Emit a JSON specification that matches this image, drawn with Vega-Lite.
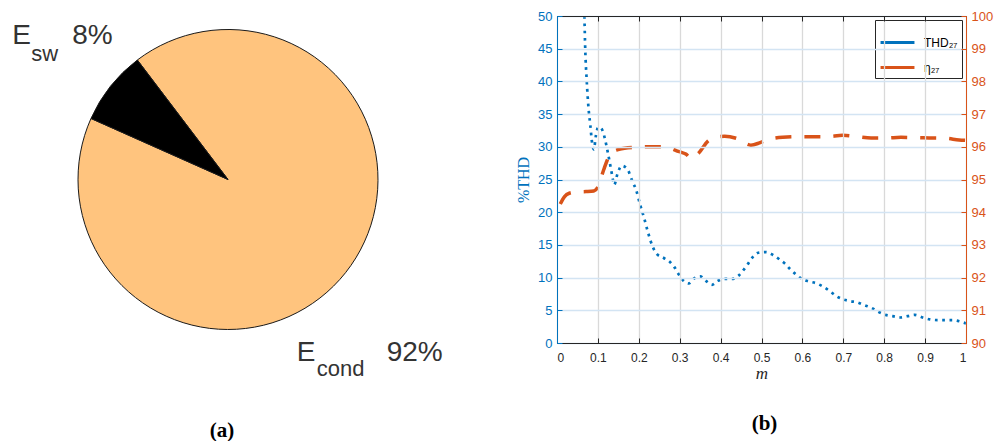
{
  "$schema": "https://vega.github.io/schema/vega-lite/v6.json",
  "background": "white",
  "padding": {"left": 0, "top": 10, "right": 0, "bottom": 0},
  "bounds": "flush",
  "spacing": 101,
  "config": {"view": {"stroke": null}, "font": "Liberation Sans"},
  "resolve": {"scale": {"color": "independent"}},
  "datasets": {
    "energy": [
      {"part": "E_cond", "share": 92, "sub": "cond", "pct": "92%"},
      {"part": "E_sw", "share": 8, "sub": "sw", "pct": "8%"}
    ],
    "thd": [
      {"m": 0.067, "thd": 50}, {"m": 0.069, "thd": 45}, {"m": 0.0726, "thd": 40.2}, {"m": 0.0775, "thd": 35.6},
      {"m": 0.0815, "thd": 33.3}, {"m": 0.085, "thd": 31}, {"m": 0.09, "thd": 29.6}, {"m": 0.0954, "thd": 31.8},
      {"m": 0.101, "thd": 33.0}, {"m": 0.107, "thd": 32.9}, {"m": 0.113, "thd": 32.2}, {"m": 0.118, "thd": 31},
      {"m": 0.125, "thd": 28.9}, {"m": 0.132, "thd": 26.6}, {"m": 0.136, "thd": 25.2}, {"m": 0.14, "thd": 24.2},
      {"m": 0.148, "thd": 25.9}, {"m": 0.158, "thd": 27.1}, {"m": 0.171, "thd": 26.7}, {"m": 0.185, "thd": 24.6},
      {"m": 0.193, "thd": 23.5}, {"m": 0.203, "thd": 21.2}, {"m": 0.2135, "thd": 19.0}, {"m": 0.223, "thd": 16.8},
      {"m": 0.2355, "thd": 14.5}, {"m": 0.2445, "thd": 13.6}, {"m": 0.261, "thd": 13.0}, {"m": 0.276, "thd": 12.4},
      {"m": 0.287, "thd": 11.6}, {"m": 0.2975, "thd": 10.5}, {"m": 0.308, "thd": 9.6}, {"m": 0.322, "thd": 9.1},
      {"m": 0.336, "thd": 9.9}, {"m": 0.35, "thd": 10.2}, {"m": 0.364, "thd": 9.5}, {"m": 0.379, "thd": 8.9},
      {"m": 0.393, "thd": 9.5}, {"m": 0.411, "thd": 9.8}, {"m": 0.428, "thd": 9.8}, {"m": 0.444, "thd": 10.3},
      {"m": 0.4565, "thd": 11.2}, {"m": 0.467, "thd": 12.1}, {"m": 0.478, "thd": 13.1}, {"m": 0.492, "thd": 13.8},
      {"m": 0.511, "thd": 13.9}, {"m": 0.527, "thd": 13.5}, {"m": 0.5435, "thd": 12.8}, {"m": 0.558, "thd": 12.1},
      {"m": 0.57, "thd": 11.3}, {"m": 0.584, "thd": 10.5}, {"m": 0.599, "thd": 9.8}, {"m": 0.617, "thd": 9.4},
      {"m": 0.635, "thd": 9.1}, {"m": 0.651, "thd": 8.6}, {"m": 0.6675, "thd": 7.9}, {"m": 0.682, "thd": 7.2},
      {"m": 0.6985, "thd": 6.7}, {"m": 0.717, "thd": 6.4}, {"m": 0.735, "thd": 6.2}, {"m": 0.751, "thd": 5.8},
      {"m": 0.768, "thd": 5.4}, {"m": 0.785, "thd": 4.8}, {"m": 0.803, "thd": 4.3}, {"m": 0.821, "thd": 4.1},
      {"m": 0.839, "thd": 3.9}, {"m": 0.857, "thd": 4.1}, {"m": 0.875, "thd": 4.3}, {"m": 0.894, "thd": 3.9},
      {"m": 0.912, "thd": 3.6}, {"m": 0.931, "thd": 3.5}, {"m": 0.949, "thd": 3.5}, {"m": 0.967, "thd": 3.5},
      {"m": 0.985, "thd": 3.3}, {"m": 1.0, "thd": 3.0}
    ],
    "eta": [
      {"m": 0.008, "eta": 94.25}, {"m": 0.018, "eta": 94.47}, {"m": 0.03, "eta": 94.58}, {"m": 0.05, "eta": 94.62},
      {"m": 0.071, "eta": 94.63}, {"m": 0.09, "eta": 94.65}, {"m": 0.0995, "eta": 94.76}, {"m": 0.114, "eta": 95.29},
      {"m": 0.124, "eta": 95.62}, {"m": 0.135, "eta": 95.82}, {"m": 0.152, "eta": 95.92}, {"m": 0.185, "eta": 95.98},
      {"m": 0.226, "eta": 96.0}, {"m": 0.262, "eta": 96.0}, {"m": 0.299, "eta": 95.85}, {"m": 0.315, "eta": 95.78},
      {"m": 0.328, "eta": 95.65}, {"m": 0.346, "eta": 95.8}, {"m": 0.368, "eta": 96.16}, {"m": 0.385, "eta": 96.28},
      {"m": 0.41, "eta": 96.32}, {"m": 0.438, "eta": 96.26}, {"m": 0.474, "eta": 96.05}, {"m": 0.495, "eta": 96.12},
      {"m": 0.511, "eta": 96.2}, {"m": 0.552, "eta": 96.29}, {"m": 0.592, "eta": 96.31}, {"m": 0.658, "eta": 96.31},
      {"m": 0.699, "eta": 96.35}, {"m": 0.735, "eta": 96.31}, {"m": 0.768, "eta": 96.27}, {"m": 0.804, "eta": 96.27},
      {"m": 0.841, "eta": 96.29}, {"m": 0.878, "eta": 96.28}, {"m": 0.91, "eta": 96.27}, {"m": 0.951, "eta": 96.26},
      {"m": 0.983, "eta": 96.21}, {"m": 1.0, "eta": 96.2}
    ]
  },
  "hconcat": [
    {
      "width": 456,
      "height": 327,
      "title": {"text": "(a)", "orient": "bottom", "frame": "group", "offset": 40, "dx": -6, "font": "Liberation Serif", "fontSize": 21, "fontWeight": "bold", "color": "#000000"},
      "data": {"name": "energy"},
      "encoding": {
        "theta": {"field": "share", "type": "quantitative", "stack": true, "scale": {"range": [-0.649, 5.634]}},
        "order": {"field": "part", "sort": "ascending"}
      },
      "layer": [
        {
          "mark": {"type": "arc", "outerRadius": 150, "stroke": "#1a1a1a", "strokeWidth": 1},
          "encoding": {
            "color": {"field": "part", "type": "nominal", "scale": {"domain": ["E_cond", "E_sw"], "range": ["#FFC47E", "#000000"]}, "legend": null}
          }
        },
        {
          "mark": {"type": "text", "radius": 200, "align": "left", "baseline": "alphabetic", "fontSize": 28, "color": "#333333", "text": "E",
            "dx": {"expr": "datum.part == 'E_sw' ? -59 : -88"}, "dy": {"expr": "datum.part == 'E_sw' ? -11 : 57"}}
        },
        {
          "mark": {"type": "text", "radius": 200, "align": "left", "baseline": "alphabetic", "fontSize": 22, "color": "#333333",
            "dx": {"expr": "datum.part == 'E_sw' ? -40 : -68"}, "dy": {"expr": "datum.part == 'E_sw' ? 6 : 72"}},
          "encoding": {"text": {"field": "sub"}}
        },
        {
          "mark": {"type": "text", "radius": 200, "align": "left", "baseline": "alphabetic", "fontSize": 28, "color": "#333333",
            "dx": {"expr": "datum.part == 'E_sw' ? 1 : 2"}, "dy": {"expr": "datum.part == 'E_sw' ? -11 : 57"}},
          "encoding": {"text": {"field": "pct"}}
        }
      ]
    },
    {
      "width": 409,
      "height": 327,
      "title": {"text": "(b)", "orient": "bottom", "frame": "group", "offset": 32, "dx": 3, "font": "Liberation Serif", "fontSize": 21, "fontWeight": "bold", "color": "#000000"},
      "resolve": {"scale": {"y": "independent"}, "axis": {"x": "independent"}},
      "layer": [
        {
          "data": {"name": "thd"},
          "mark": {"type": "line", "strokeWidth": 2.7, "clip": true, "interpolate": "monotone"},
          "encoding": {
            "x": {"field": "m", "type": "quantitative", "scale": {"domain": [0, 1], "nice": false},
              "axis": {"orient": "bottom", "values": [0, 0.1, 0.2, 0.3, 0.4, 0.5, 0.6, 0.7, 0.8, 0.9, 1], "format": "~g",
                "title": "m", "titleFont": "Liberation Serif", "titleFontStyle": "italic", "titleFontWeight": "normal", "titleFontSize": 17, "titleColor": "#262626", "titlePadding": 2,
                "labelFont": "Liberation Sans", "labelFontSize": 12, "labelColor": "#262626", "labelPadding": 14,
                "tickSize": -5, "tickColor": "#262626", "domainColor": "#262626", "grid": true, "gridColor": "#d9d9d9", "gridWidth": 1.3, "zindex": 1}},
            "y": {"field": "thd", "type": "quantitative", "scale": {"domain": [0, 50], "nice": false},
              "axis": {"orient": "left", "values": [0, 5, 10, 15, 20, 25, 30, 35, 40, 45, 50],
                "title": "%THD", "titleFont": "Liberation Serif", "titleFontWeight": "normal", "titleFontSize": 16, "titleColor": "#0072BD", "titlePadding": 6,
                "labelFont": "Liberation Sans", "labelFontSize": 13, "labelColor": "#0072BD", "labelPadding": 10,
                "tickSize": -5, "tickColor": "#0072BD", "domainColor": "#0072BD", "grid": true, "gridColor": "#d3e4f3", "gridWidth": 1.3, "zindex": 1}},
            "color": {"datum": "THD₂₇", "type": "nominal", "scale": {"domain": ["THD₂₇", "η₂₇"], "range": ["#0072BD", "#D95319"]},
              "legend": {"orient": "none", "legendX": 318, "legendY": 4, "title": null, "strokeColor": "#262626", "fillColor": "white", "padding": 4,
                "symbolType": "stroke", "symbolSize": 1150, "symbolStrokeWidth": 3,
                "labelFont": "Liberation Sans", "labelFontSize": 12, "labelColor": "#000000", "labelOffset": 8, "rowPadding": -11}},
            "strokeDash": {"datum": "THD₂₇", "type": "nominal", "scale": {"domain": ["THD₂₇", "η₂₇"], "range": [[2.7, 4.6], [16, 13]]}}
          }
        },
        {
          "data": {"name": "eta"},
          "mark": {"type": "line", "strokeWidth": 3.5, "clip": true, "interpolate": "monotone"},
          "encoding": {
            "x": {"field": "m", "type": "quantitative", "scale": {"domain": [0, 1], "nice": false},
              "axis": {"orient": "top", "values": [0, 0.1, 0.2, 0.3, 0.4, 0.5, 0.6, 0.7, 0.8, 0.9, 1], "labels": false, "title": null, "grid": false,
                "tickSize": -5, "tickColor": "#262626", "domainColor": "#262626", "zindex": 1}},
            "y": {"field": "eta", "type": "quantitative", "scale": {"domain": [90, 100], "nice": false},
              "axis": {"orient": "right", "values": [90, 91, 92, 93, 94, 95, 96, 97, 98, 99, 100], "title": null, "grid": false,
                "labelFont": "Liberation Sans", "labelFontSize": 13, "labelColor": "#D95319", "labelPadding": 10,
                "tickSize": -5, "tickColor": "#D95319", "domainColor": "#D95319", "zindex": 1}},
            "color": {"datum": "η₂₇", "type": "nominal"},
            "strokeDash": {"datum": "η₂₇", "type": "nominal"}
          }
        }
      ]
    }
  ]
}
